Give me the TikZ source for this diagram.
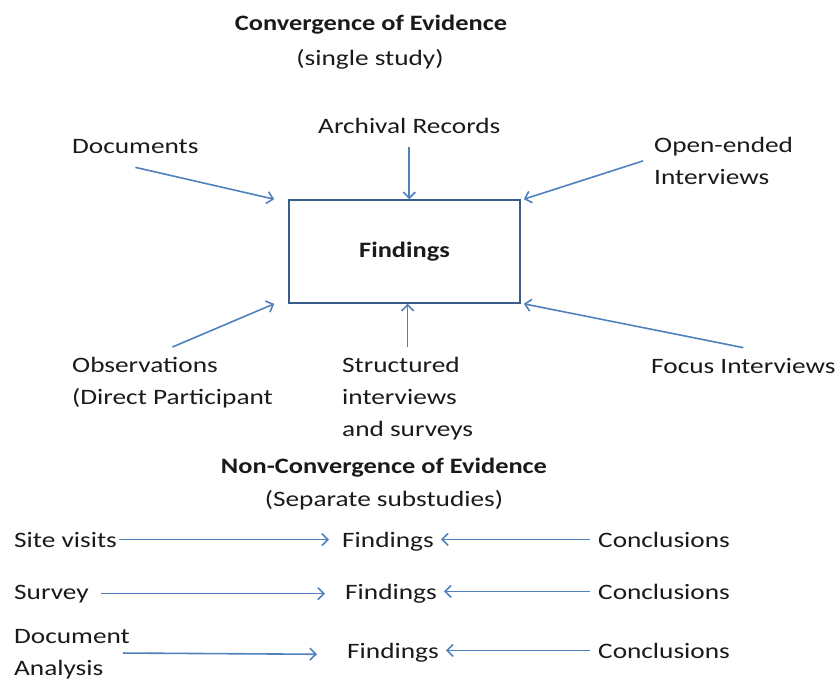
\documentclass[tikz,border=0pt]{standalone}
\usepackage{fontspec}
\setmainfont{Carlito}[FakeStretch=1.24, BoldFeatures={FakeStretch=1.2}]
\usetikzlibrary{arrows.meta,positioning}
\definecolor{arrblue}{HTML}{4F81BD}
\definecolor{boxblue}{HTML}{385D8A}
\definecolor{txt}{HTML}{1A1A1A}

\begin{document}
\begin{tikzpicture}[x=1pt, y=-1pt,
    lbl/.style={inner sep=0pt, anchor=base west, font=\fontsize{22}{32}\selectfont, text=txt, align=left},
    ml/.style={lbl, anchor=north west},
    ttl/.style={inner sep=0pt, anchor=base, font=\fontsize{22}{32}\selectfont\bfseries, text=txt},
    sub/.style={ttl, font=\fontsize{22}{32}\selectfont},
    box/.style={draw=boxblue, line width=1.6pt, minimum width=231pt, minimum height=103pt, font=\fontsize{22}{32}\selectfont\bfseries, text=txt},
    arr/.style={-{Straight Barb[length=6pt,width=12pt]}, draw=arrblue, line width=1.6pt},
  ]
  \useasboundingbox (0,0) rectangle (837,680);

  % convergence
  \node[ttl] (conv) at (371,30) {Convergence of Evidence};
  \node[sub] (single) at (370,65) {(single study)};
  \node[box] (find) at (404.5,251.5) {Findings};

  \node[lbl] (docs) at (72,153) {Documents};
  \node[lbl] (arch) at (318,133) {Archival Records};
  \node[ml] (open) at (654,137) {Open-ended\\Interviews};
  \node[ml] (obs) at (72,357) {Observations\\(Direct Participant};
  \node[ml] (struct) at (342,357) {Structured\\interviews\\and surveys};
  \node[lbl] (focus) at (651,373) {Focus Interviews};

  \draw[arr] ([yshift=-14pt]docs.south) -- ([xshift=-14pt]find.north west);
  \draw[arr] ([yshift=-14pt]arch.south) -- (arch.south |- find.north);
  \draw[arr] ([xshift=-11pt]open.west) -- ([xshift=3pt]find.north east);
  \draw[arr] ([yshift=10pt]obs.north) -- ([xshift=-14pt]find.south west);
  \draw[arr] ([yshift=10pt]struct.north) -- (struct.north |- find.south);
  \draw[arr] ([yshift=10pt]focus.north) -- ([xshift=3pt]find.south east);

  % non-convergence
  \node[ttl] (nonconv) at (384,473) {Non-Convergence of Evidence};
  \node[sub] (separate) at (384,506) {(Separate substudies)};

  \node[lbl] (site) at (14,547) {Site visits};
  \node[lbl] (fndA) at (342,547) {Findings};
  \node[lbl] (conA) at (598,547) {Conclusions};
  \node[lbl] (survey) at (14,599) {Survey};
  \node[lbl] (fndB) at (345,599) {Findings};
  \node[lbl] (conB) at (598,599) {Conclusions};
  \node[ml] (docan) at (14,629) {Document\\Analysis};
  \node[lbl] (fndC) at (347,658) {Findings};
  \node[lbl] (conC) at (598,658) {Conclusions};

  \draw[arr] ([xshift=2pt]site.east) -- ([xshift=-13pt]site.east -| fndA.west);
  \draw[arr] ([xshift=-8pt]conA.west) -- ([xshift=7pt]conA.west -| fndA.east);
  \draw[arr] ([xshift=12pt]survey.east) -- ([xshift=-20pt]survey.east -| fndB.west);
  \draw[arr] ([xshift=-8pt]conB.west) -- ([xshift=7pt]conB.west -| fndB.east);
  \draw[arr] ([xshift=-7pt,yshift=1pt]docan.east) -- ([xshift=-30pt,yshift=-2pt]fndC.west);
  \draw[arr] ([xshift=-8pt]conC.west) -- ([xshift=7pt]conC.west -| fndC.east);
\end{tikzpicture}
\end{document}
